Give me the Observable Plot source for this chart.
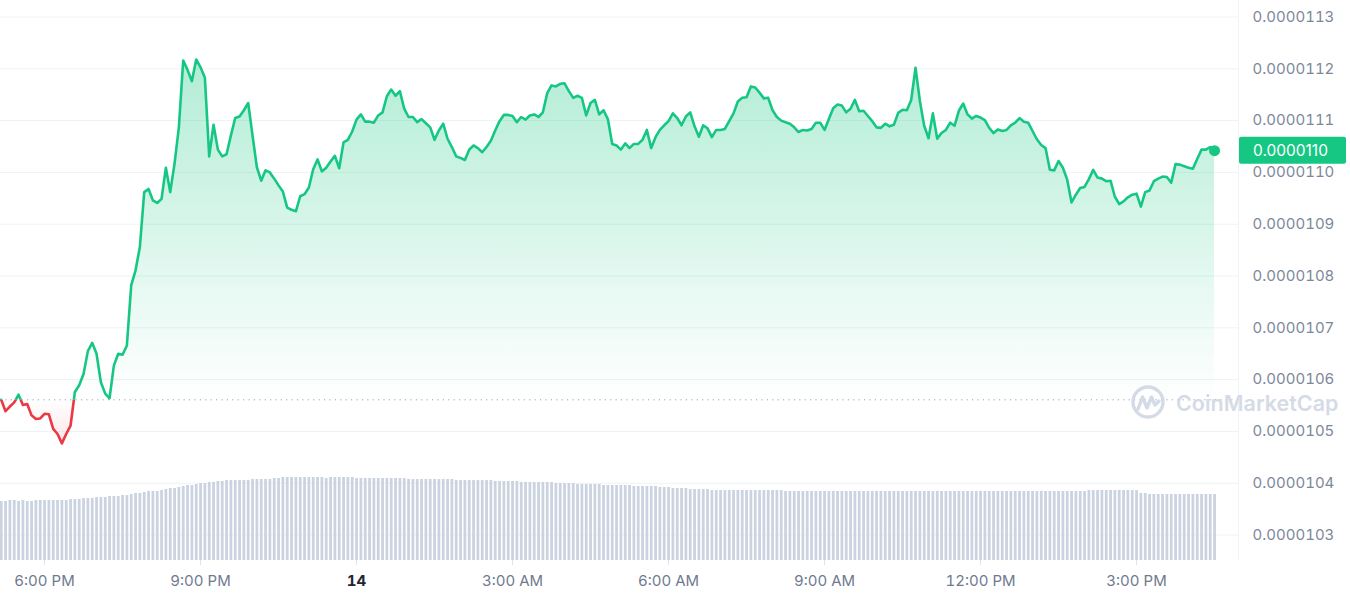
<!DOCTYPE html>
<html><head><meta charset="utf-8">
<script src="https://cdn.jsdelivr.net/npm/d3@7"></script>
<script src="https://cdn.jsdelivr.net/npm/@observablehq/plot@0.6"></script>
<style>
body{margin:0;background:#fff;font-family:Inter,sans-serif;}
#wrap{position:relative;width:1350px;height:600px;overflow:hidden;}
#wrap svg{position:absolute;left:0;top:0;}
</style></head><body><div id="wrap"></div>
<script>
// Price in units of 1e-7 (e.g. 110.42 => 0.0000110420), one reading every 5 minutes
const pricesE7 = [
105.61,105.39,105.48,105.56,105.71,105.51,105.53,105.31,105.24,105.25,
105.34,105.33,105.05,104.95,104.77,104.95,105.11,105.76,105.89,106.11,
106.55,106.71,106.50,105.95,105.73,105.64,106.27,106.50,106.48,106.66,
107.82,108.11,108.56,109.62,109.68,109.46,109.41,109.49,110.09,109.62,
110.17,110.87,112.16,111.98,111.76,112.18,112.03,111.83,110.31,110.92,
110.44,110.31,110.35,110.71,111.05,111.08,111.20,111.34,110.71,110.10,
109.84,110.04,110.00,109.88,109.75,109.63,109.32,109.28,109.25,109.54,
109.58,109.71,110.06,110.25,110.02,110.09,110.21,110.32,110.08,110.58,
110.63,110.79,111.02,111.12,110.98,110.98,110.96,111.10,111.16,111.47,
111.60,111.48,111.57,111.23,111.07,111.07,110.97,111.03,110.95,110.87,
110.63,110.81,110.94,110.65,110.49,110.31,110.28,110.24,110.44,110.52,
110.47,110.39,110.49,110.61,110.81,110.99,111.11,111.11,111.09,110.97,
111.07,111.02,111.10,111.12,111.07,111.16,111.53,111.68,111.66,111.71,
111.72,111.57,111.44,111.48,111.44,111.10,111.34,111.40,111.12,111.20,
111.03,110.55,110.52,110.44,110.56,110.47,110.55,110.55,110.63,110.82,
110.47,110.68,110.82,110.91,110.99,111.14,111.05,110.91,111.08,111.16,
110.89,110.69,110.91,110.85,110.68,110.82,110.82,110.84,110.99,111.14,
111.37,111.44,111.45,111.66,111.64,111.54,111.43,111.44,111.20,111.07,
111.00,110.97,110.94,110.87,110.78,110.82,110.81,110.84,110.96,110.96,
110.82,111.03,111.24,111.31,111.29,111.16,111.23,111.40,111.18,111.19,
111.09,110.99,110.87,110.86,110.94,110.89,110.92,111.15,111.21,111.20,
111.40,112.02,111.38,110.90,110.66,111.14,110.65,110.76,110.82,110.96,
110.90,111.19,111.33,111.12,111.04,111.09,111.06,111.01,110.86,110.76,
110.83,110.80,110.82,110.91,110.96,111.05,110.98,110.96,110.80,110.64,
110.53,110.47,110.05,110.04,110.22,110.09,109.86,109.42,109.57,109.70,
109.72,109.87,110.05,109.90,109.88,109.83,109.84,109.53,109.39,109.44,
109.52,109.57,109.59,109.34,109.62,109.65,109.83,109.88,109.92,109.91,
109.80,110.16,110.15,110.12,110.09,110.07,110.26,110.44,110.44,110.49,
110.42
];
// Trading volume (relative units), one bar per 5-minute reading
const volumes = [
59,59,60,60,59,60,59,59,60,60,
60,60,60,60,60,60,61,61,61,62,
62,62,63,63,63,64,64,64,65,65,
66,67,67,68,69,69,69,70,71,72,
72,73,74,75,75,76,77,77,78,78,
79,79,80,80,80,80,80,80,81,81,
81,81,81,82,82,83,83,83,83,83,
83,83,83,83,83,82,83,83,83,83,
83,83,82,82,82,82,82,82,82,82,
82,82,82,82,81,81,81,81,81,81,
81,81,81,81,81,80,80,80,80,80,
80,80,80,80,79,79,79,79,79,79,
78,78,78,78,78,78,78,78,77,77,
77,77,77,76,76,76,76,76,76,75,
75,75,75,75,75,75,74,74,74,74,
74,74,73,73,73,72,72,72,72,71,
71,71,71,71,70,70,70,70,70,70,
70,70,70,70,70,70,70,70,70,70,
70,69,69,69,69,69,69,69,69,69,
69,69,69,69,69,69,69,69,69,69,
69,69,69,69,69,69,69,69,69,69,
69,69,69,69,69,69,69,69,69,69,
69,69,69,69,69,69,69,69,69,69,
69,69,69,69,69,69,69,69,69,69,
69,69,69,69,69,69,69,69,69,69,
69,70,70,70,70,70,70,70,70,70,
70,70,70,67,67,66,66,66,66,66,
66,66,66,66,66,66,66,66,66,66,
66
];
const startTime = "2023-12-13T17:10:00Z";
const stepMinutes = 5;
const viewStart = "2023-12-13T17:09:11Z";
const viewEnd = "2023-12-14T16:57:39Z";
const yTicks = [103,104,105,106,107,108,109,110,111,112,113];
const xTickTimes = ["2023-12-13T18:00:00Z","2023-12-13T21:00:00Z","2023-12-14T00:00:00Z","2023-12-14T03:00:00Z","2023-12-14T06:00:00Z","2023-12-14T09:00:00Z","2023-12-14T12:00:00Z","2023-12-14T15:00:00Z"];
const xTickLabels = ["6:00 PM","9:00 PM","14","3:00 AM","6:00 AM","9:00 AM","12:00 PM","3:00 PM"];
const dayTickLabel = "14";

const GREEN = "#16c784", RED = "#ea3943";
const t0 = new Date(startTime).getTime();
const data = pricesE7.map((p, i) => ({t: new Date(t0 + i*stepMinutes*60000), p, v: volumes[i]}));
const base = pricesE7[0];
const last = data[data.length-1];
const xDomain = [new Date(viewStart), new Date(viewEnd)];
const yDomain = [102.508, 113.319];
const ticks = xTickTimes.map(s => new Date(s));
const labelOf = new Map(ticks.map((d,i) => [+d, xTickLabels[i]]));
const dayTicks = ticks.filter(d => labelOf.get(+d) === dayTickLabel);
const timeTicks = ticks.filter(d => labelOf.get(+d) !== dayTickLabel);
const fmt = d => (d*1e-7).toFixed(7);

const common = {width:1350, height:600, marginLeft:0, marginRight:112, marginTop:0, marginBottom:40};

const main = Plot.plot({
  ...common,
  style:{background:"transparent", fontFamily:"Inter, sans-serif", overflow:"visible"},
  x:{type:"utc", domain:xDomain, label:null},
  y:{domain:yDomain, label:null},
  marks:[
    Plot.ruleY(yTicks, {stroke:"#eff2f5", strokeWidth:1}),
    Plot.ruleX([xDomain[1]], {stroke:"#eff2f5", y1: yDomain[0], y2: yDomain[1]}),
    Plot.areaY(data, {x:"t", y1: base, y2:"p", fill:"url(#gUp)"}),
    Plot.areaY(data, {x:"t", y1: base, y2:"p", fill:"url(#gDown)"}),
    Plot.ruleY([base], {stroke:"#9aa1b1", strokeWidth:1, strokeDasharray:"1.2,4.2"}),
    Plot.lineY(data, {x:"t", y:"p", stroke:GREEN, strokeWidth:2.6}),
    Plot.lineY(data, {x:"t", y:"p", stroke:RED, strokeWidth:2.6}),
    Plot.dot([last], {x:"t", y:"p", r:5.5, fill:GREEN}),
    Plot.axisY(yTicks, {anchor:"right", tickSize:0, tickPadding:14, tickFormat: fmt, fontSize:15, fill:"#7d879b", label:null}),
    Plot.axisX(timeTicks, {anchor:"bottom", tickSize:5, tickPadding:10, tickFormat: d => labelOf.get(+d), fontSize:15, fill:"#6f7a8f", stroke:"#dfe3ea", label:null}),
    Plot.axisX(dayTicks, {anchor:"bottom", tickSize:5, tickPadding:10, tickFormat: d => labelOf.get(+d), fontSize:15, fontWeight:700, fill:"#222531", stroke:"#dfe3ea", label:null})
  ]
});

const svg = d3.select(main);
const yS = main.scale("y");
const by = yS.apply(base);
const defs = svg.insert("defs", ":first-child");
const gu = defs.append("linearGradient").attr("id","gUp").attr("gradientUnits","userSpaceOnUse")
  .attr("x1",0).attr("x2",0).attr("y1", yS.apply(d3.max(pricesE7))).attr("y2", by);
gu.append("stop").attr("offset",0).attr("stop-color",GREEN).attr("stop-opacity",0.33);
gu.append("stop").attr("offset",1).attr("stop-color",GREEN).attr("stop-opacity",0.0);
const gd = defs.append("linearGradient").attr("id","gDown").attr("gradientUnits","userSpaceOnUse")
  .attr("x1",0).attr("x2",0).attr("y1", by).attr("y2", yS.apply(d3.min(pricesE7)));
gd.append("stop").attr("offset",0).attr("stop-color",RED).attr("stop-opacity",0.0);
gd.append("stop").attr("offset",1).attr("stop-color",RED).attr("stop-opacity",0.12);
defs.append("clipPath").attr("id","clipUp").append("rect").attr("x",-20).attr("y",-20).attr("width",1400).attr("height",by+20);
defs.append("clipPath").attr("id","clipDown").append("rect").attr("x",-20).attr("y",by).attr("width",1400).attr("height",700);
const areas = svg.selectAll('g[aria-label="area"]').nodes();
const lines = svg.selectAll('g[aria-label="line"]').nodes();
d3.select(areas[0]).attr("clip-path","url(#clipUp)");
d3.select(lines[0]).attr("clip-path","url(#clipUp)");
d3.select(areas[1]).attr("clip-path","url(#clipDown)");
d3.select(lines[1]).attr("clip-path","url(#clipDown)");

// current price tag
const ly = yS.apply(last.p);
const tag = svg.append("g").attr("text-anchor","start");
tag.append("rect").attr("x",1239).attr("y",ly-13.5).attr("width",107).attr("height",27).attr("rx",2).attr("fill",GREEN);
tag.append("text").attr("x",1253).attr("y",ly).attr("dy","0.35em").attr("fill","#fff")
  .attr("font-size",15.5).attr("font-family","Inter, sans-serif").text(fmt(last.p));

// watermark
const wm = svg.append("g").attr("fill","none").attr("stroke","#d5dbe6").attr("stroke-width",3.4).attr("stroke-linecap","round").attr("stroke-linejoin","round");
wm.append("circle").attr("cx",1148).attr("cy",402).attr("r",15);
wm.append("path").attr("d","M1138,409 L1142.5,397 L1147,408 L1151.5,397 L1155,405 L1159,401");
svg.append("text").attr("x",1176).attr("y",403).attr("dy","0.36em").attr("fill","#d5dbe6").attr("text-anchor","start")
  .attr("font-size",21.5).attr("font-weight",600).attr("font-family","Inter, sans-serif").text("CoinMarketCap");

const vol = Plot.plot({
  ...common,
  style:{background:"transparent", overflow:"visible"},
  x:{type:"utc", domain:xDomain, axis:null},
  y:{domain:[0,100], range:[560,460], axis:null},
  marks:[
    Plot.rectY(data, {x1: d => new Date(+d.t - 60000), x2: d => new Date(+d.t + 2.2*60000), y:"v", fill:"#cbd3e1"})
  ]
});

const wrap = document.getElementById("wrap");
wrap.appendChild(main);
wrap.appendChild(vol);
</script></body></html>
